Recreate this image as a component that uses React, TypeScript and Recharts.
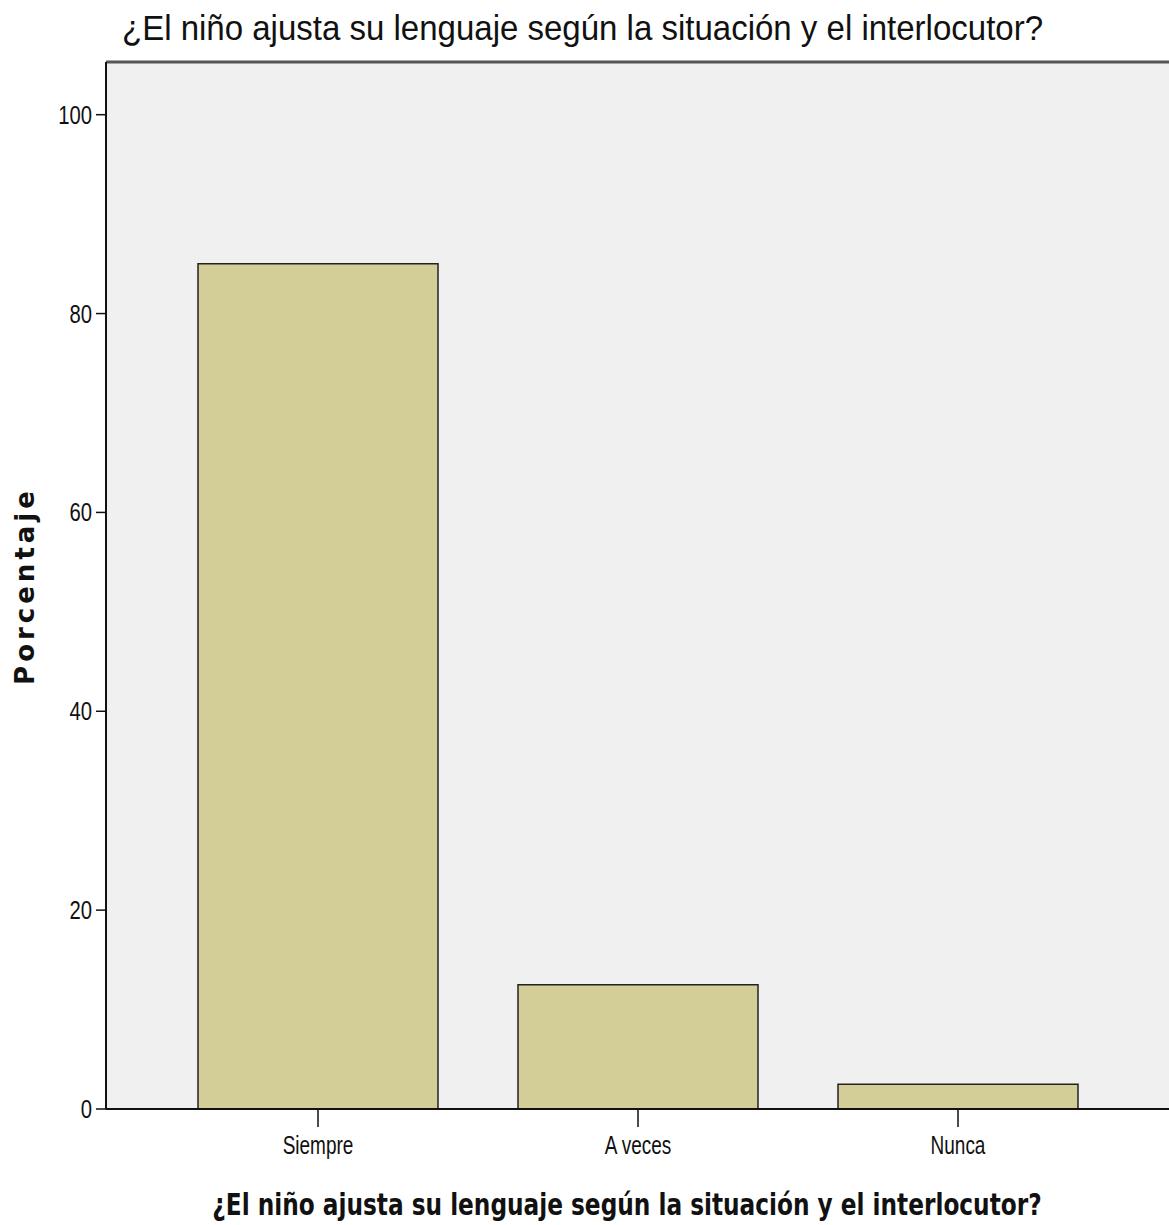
import { BarChart, Bar, XAxis, YAxis, CartesianGrid, ReferenceLine } from 'recharts';

const categories = ['Siempre', 'A veces', 'Nunca'];
const percentages = [85, 12.5, 2.5];
const yTicks = [0, 20, 40, 60, 80, 100];

const TITLE = '¿El niño ajusta su lenguaje según la situación y el interlocutor?';
const Y_MAX = 105.3;

const data = categories.map((name, i) => ({ name, value: percentages[i] }));

const sans = '"Liberation Sans", Arial, sans-serif';

// no narrow font installed, so squeeze the glyphs horizontally
const YTick = (props: any) => {
  const { x, y, payload } = props;
  return (
    <text
      transform={`translate(${x},${y + 9}) scale(0.78,1)`}
      textAnchor="end"
      fontFamily={sans}
      fontSize={26}
      fill="#111"
    >
      {payload.value}
    </text>
  );
};

const XTick = (props: any) => {
  const { x, y, payload } = props;
  return (
    <text
      transform={`translate(${x},${y + 21}) scale(0.73,1)`}
      textAnchor="middle"
      fontFamily={sans}
      fontSize={26}
      fill="#111"
    >
      {payload.value}
    </text>
  );
};

export default function App() {
  return (
    <div style={{ position: 'absolute', left: 0, top: 0, width: 1169, height: 1225, background: '#fff' }}>
      <div
        style={{
          position: 'absolute',
          left: 122,
          top: 8,
          fontFamily: sans,
          fontSize: 35,
          color: '#111',
          whiteSpace: 'nowrap',
          transformOrigin: 'left center',
          transform: 'scaleX(0.943)',
        }}
      >
        {TITLE}
      </div>
      <BarChart
        width={1169}
        height={1225}
        data={data}
        margin={{ top: 62, right: 0, left: 0, bottom: 0 }}
      >
        <CartesianGrid horizontal={false} vertical={false} fill="#f0f0f0" />
        <ReferenceLine y={Y_MAX} stroke="#555" strokeWidth={3} />
        <XAxis
          dataKey="name"
          height={116}
          padding={{ left: 52, right: 51 }}
          axisLine={{ stroke: '#111', strokeWidth: 2 }}
          tickLine={{ stroke: '#111', strokeWidth: 1.5 }}
          tickSize={18}
          tickMargin={6}
          tick={<XTick />}
        />
        <YAxis
          width={106}
          domain={[0, Y_MAX]}
          ticks={yTicks}
          axisLine={{ stroke: '#111', strokeWidth: 2 }}
          tickLine={{ stroke: '#111', strokeWidth: 1.5 }}
          tickSize={10}
          tickMargin={4}
          tick={<YTick />}
        />
        <Bar
          dataKey="value"
          barSize={240}
          fill="#d3ce98"
          stroke="#222"
          strokeWidth={1.5}
          isAnimationActive={false}
        />
      </BarChart>
      <div
        style={{
          position: 'absolute',
          left: 25,
          top: 586,
          transform: 'translate(-50%, -50%) rotate(-90deg)',
          fontFamily: '"DejaVu Sans", sans-serif',
          fontWeight: 'bold',
          fontSize: 26,
          letterSpacing: 4,
          color: '#111',
          whiteSpace: 'nowrap',
        }}
      >
        Porcentaje
      </div>
      <div
        style={{
          position: 'absolute',
          left: 627,
          top: 1204,
          transform: 'translate(-50%, -50%) scaleX(0.833)',
          fontFamily: '"DejaVu Sans Condensed", "DejaVu Sans", sans-serif',
          fontWeight: 'bold',
          fontSize: 31,
          color: '#111',
          whiteSpace: 'nowrap',
        }}
      >
        {TITLE}
      </div>
    </div>
  );
}
